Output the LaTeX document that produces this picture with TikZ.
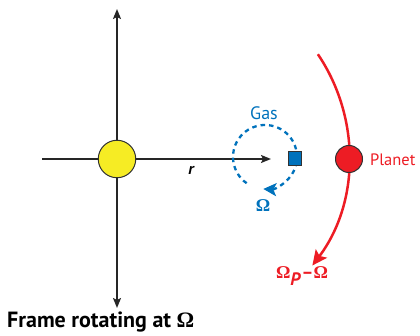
\documentclass[tikz,border=0pt]{standalone}
\usepackage{fontspec}
\setmainfont{PT Sans}
\newfontfamily\omegafont{Liberation Serif}
\usetikzlibrary{arrows.meta}
\definecolor{sunyellow}{RGB}{246,236,36}
\definecolor{planetred}{RGB}{237,28,36}
\definecolor{gasblue}{RGB}{0,114,188}
\definecolor{outline}{RGB}{50,50,50}
\tikzset{
  axis/.style={line width=1.8pt, draw=black!85, -{Stealth[length=10pt,width=8pt,inset=2pt]}},
  lbl/.style={inner sep=0pt},
}
\newcommand{\Om}{{\omegafont\bfseries\symbol{"03A9}}}
\begin{document}
\begin{tikzpicture}[x=1pt,y=-1pt]
\useasboundingbox (0,0) rectangle (420,336);
% axes
\coordinate (top) at (117,9);
\coordinate (bot) at (117,308);
\coordinate (left) at (42,159);
\coordinate (rtip) at (271,159);
\draw[axis] (117,159) -- (top);
\draw[axis] (117,159) -- (bot);
\draw[line width=1.8pt, draw=black!85] (left) -- (117,159);
\draw[axis] (117,159) -- (rtip);
% sun
\node[circle, minimum size=37.5pt, inner sep=0pt, fill=sunyellow, draw=outline, line width=1pt] (sun) at (117,159) {};
% gas orbit (y axis flipped: angles negated)
\coordinate (gc) at (265,157);
\draw[gasblue, line width=2.3pt, dash pattern=on 4.5pt off 4pt, -{Stealth[length=13pt,width=13pt,inset=3pt]}]
  (gc) ++(-235:32) arc[start angle=-235, end angle=93, radius=32];
\node[rectangle, minimum size=13.5pt, inner sep=0pt, fill=gasblue, draw=outline, line width=1pt] (gas) at (295,158.5) {};
\node[lbl, text=gasblue, font=\fontsize{18}{20}\selectfont] (gaslbl) at (264,113) {Gas};
\node[lbl, text=gasblue, font=\fontsize{18}{20}\selectfont] (omg) at (263,206) {\Om};
\node[lbl, font=\fontsize{16}{18}\selectfont\bfseries\itshape] (r) at (191,170) {r};
% planet orbit
\coordinate (pc) at (167,156);
\draw[planetred, line width=2.5pt, -{Stealth[length=15pt,width=14pt,inset=3pt]}]
  (pc) ++(-34:182) arc[start angle=-34, end angle=37, radius=182];
\node[circle, minimum size=27pt, inner sep=0pt, fill=planetred, draw=outline, line width=1pt] (planet) at (349,159) {};
\node[lbl, text=planetred, anchor=west, font=\fontsize{16.5}{18}\selectfont] (plbl) at (370,160) {Planet};
\node[lbl, text=planetred, font=\fontsize{18}{20}\selectfont] (omp) at (302,276) {\Om$_{\textbf{\textit{P}}}$\textbf{–}\Om};
% caption
\node[lbl, anchor=west, font=\fontsize{22}{24}\selectfont\bfseries] (cap) at (7,322) {Frame rotating at \Om};
\end{tikzpicture}
\end{document}
